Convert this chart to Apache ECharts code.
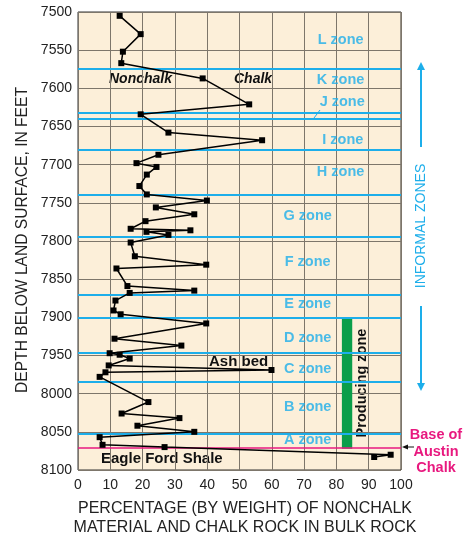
<!DOCTYPE html>
<html><head><meta charset="utf-8">
<script src="https://cdn.jsdelivr.net/npm/echarts@6/dist/echarts.min.js"></script>
<style>html,body{margin:0;padding:0;background:#fff}#c{width:474px;height:539px}</style>
</head><body><div id="c"></div>
<script>
// Percentage values and depths (feet) of sampled points
const pctValues = [12.9,19.4,13.9,13.4,38.6,53,19.4,28,57,24.9,18.1,24.3,21.3,19,21.3,39.9,24.1,36,20.9,16.3,34.8,21.2,28,16.3,17.6,39.7,11.9,15.3,36,16,11.6,11,13.2,39.7,11.3,32,9.8,12.9,16,9.5,59.9,8.5,6.7,21.8,13.5,31.4,18.4,36,6.7,7.6,26.8,96.8,91.7];
const depths = [7505,7529,7552,7567,7587,7621,7634,7658,7668,7687,7698,7703,7713,7728,7739,7747,7756,7765,7774,7784,7786,7788,7792,7802,7820,7831,7836,7859,7865,7868,7878,7891,7896,7908,7928,7937,7947,7949,7954,7963,7969,7972,7978,8011,8026,8032,8042,8050,8057,8067,8070,8080,8083];
const zoneBoundaries = [7574,7632,7640,7680,7740,7794,7870,7901,7947,7985,8053];
const baseOfAustinChalk = 8071;
const zoneNames = ['L zone','K zone','J zone','I zone','H zone','G zone','F zone','E zone','D zone','C zone','B zone','A zone'];
const zoneLabelDepths = [7537,7589,7618,7668,7710,7767,7827,7882,7927,7968,8017,8061];
const zoneLabelPct = [81.3,81.3,81.8,82,81.3,71.1,71.1,71.1,71.1,71.1,71.1,71.1];
const producingZone = {pctFrom:81.7, pctTo:84.9, depthFrom:7900, depthTo:8072};
const xTicks = [0,10,20,30,40,50,60,70,80,90,100];

const chart = echarts.init(document.getElementById('c'));
const blue = '#1DAEEA';
const font = 'Liberation Sans, Arial, sans-serif';
const pts = pctValues.map((v,i)=>[v,depths[i]]);
const zoneLabelData = zoneNames.map((n,i)=>({value:[zoneLabelPct[i],zoneLabelDepths[i]],name:n}));

chart.setOption({
  animation:false,
  textStyle:{fontFamily:font},
  grid:{left:78,right:73,top:12,bottom:69,show:true,backgroundColor:'#FCEFD9',borderColor:'#333',borderWidth:1},
  xAxis:{type:'value',min:0,max:100,interval:10,
    axisLine:{show:false},axisTick:{show:false},
    splitLine:{show:true,lineStyle:{color:'#7d766b',width:1}},
    axisLabel:{color:'#222',fontSize:14,margin:8,fontFamily:font,formatter:v=>xTicks.includes(v)?String(v):''}},
  yAxis:{type:'value',min:7500,max:8100,interval:50,inverse:true,
    axisLine:{show:false},axisTick:{show:false},
    splitLine:{show:true,lineStyle:{color:'#7d766b',width:1}},
    axisLabel:{color:'#222',fontSize:14,margin:6,fontFamily:font,formatter:v=>String(v)}},
  series:[
    {type:'line',data:[],silent:true,
      markArea:{silent:true,itemStyle:{color:'#0A9E4A'},
        data:[[{coord:[producingZone.pctFrom,producingZone.depthFrom]},{coord:[producingZone.pctTo,producingZone.depthTo]}]]},
      markLine:{silent:true,symbol:'none',label:{show:false},
        data:zoneBoundaries.map(d=>({yAxis:d,lineStyle:{color:blue,width:2,type:'solid'}}))
          .concat([{yAxis:baseOfAustinChalk,lineStyle:{color:'#E8197F',width:1.5,type:'solid'}}])}
    },
    {type:'line',data:pts,symbol:'rect',symbolSize:6,lineStyle:{color:'#000',width:1.5},itemStyle:{color:'#000'},z:5},
    {type:'scatter',data:zoneLabelData,symbolSize:0,z:6,
      label:{show:true,position:'inside',formatter:p=>p.name,color:blue,fontSize:14.5,fontWeight:'bold',fontFamily:font}}
  ],
  graphic:[
    {type:'text',left:109,top:72,style:{text:'Nonchalk',font:'italic bold 14px '+font,fill:'#111'}},
    {type:'text',left:234,top:72,style:{text:'Chalk',font:'italic bold 14px '+font,fill:'#111'}},
    {type:'text',left:209,top:354,style:{text:'Ash bed',font:'bold 15px '+font,fill:'#111'}},
    {type:'text',left:101,top:451,style:{text:'Eagle Ford Shale',font:'bold 15px '+font,fill:'#111'}},
    {type:'line',shape:{x1:314,y1:118,x2:320,y2:110},style:{stroke:blue,lineWidth:1}},
    {type:'text',x:362,y:383,rotation:Math.PI/2,style:{text:'Producing zone',font:'bold 14.5px '+font,fill:'#111',align:'center',verticalAlign:'middle'}},
    // informal zones
    {type:'line',shape:{x1:421,y1:66,x2:421,y2:147},style:{stroke:blue,lineWidth:2}},
    {type:'polygon',shape:{points:[[421,62],[417,70],[425,70]]},style:{fill:blue}},
    {type:'text',x:421,y:226,rotation:Math.PI/2,style:{text:'INFORMAL ZONES',font:'14px '+font,fill:blue,align:'center',verticalAlign:'middle'}},
    {type:'line',shape:{x1:421,y1:306,x2:421,y2:386},style:{stroke:blue,lineWidth:2}},
    {type:'polygon',shape:{points:[[421,391],[417,383],[425,383]]},style:{fill:blue}},
    // base of Austin Chalk
    {type:'text',x:436,y:435,style:{text:'Base of',font:'bold 14.5px '+font,fill:'#E8197F',align:'center',verticalAlign:'middle'}},
    {type:'text',x:436,y:452,style:{text:'Austin',font:'bold 14.5px '+font,fill:'#E8197F',align:'center',verticalAlign:'middle'}},
    {type:'text',x:436,y:468,style:{text:'Chalk',font:'bold 14.5px '+font,fill:'#E8197F',align:'center',verticalAlign:'middle'}},
    {type:'line',shape:{x1:405,y1:447,x2:414,y2:447},style:{stroke:'#111',lineWidth:1}},
    {type:'polygon',shape:{points:[[402,447],[408,444.5],[408,449.5]]},style:{fill:'#111'}},
    // axis titles
    {type:'text',x:23,y:240,rotation:Math.PI/2,style:{text:'DEPTH BELOW LAND SURFACE, IN FEET',font:'15.6px '+font,fill:'#222',align:'center',verticalAlign:'middle'}},
    {type:'text',x:245,y:509,style:{text:'PERCENTAGE (BY WEIGHT) OF NONCHALK',font:'16px '+font,fill:'#222',align:'center',verticalAlign:'middle'}},
    {type:'text',x:245,y:528,style:{text:'MATERIAL AND CHALK ROCK IN BULK ROCK',font:'16px '+font,fill:'#222',align:'center',verticalAlign:'middle'}}
  ]
});
</script></body></html>
